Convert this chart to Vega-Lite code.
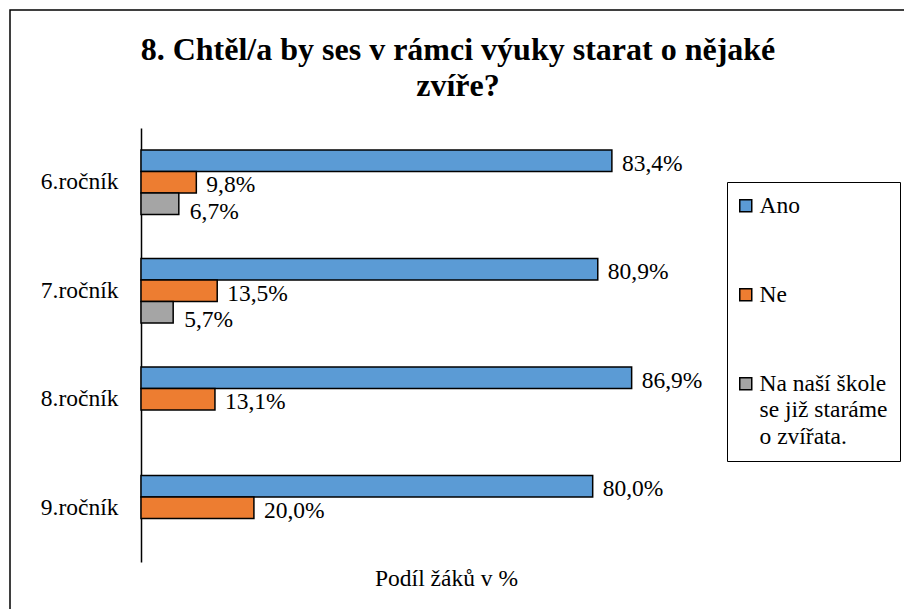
{
  "$schema": "https://vega.github.io/schema/vega-lite/v6.json",
  "width": 900,
  "height": 600,
  "autosize": {"type": "none"},
  "padding": {"left": 10, "top": 10, "right": 0, "bottom": 0},
  "background": "white",
  "title": {
    "text": ["8. Chtěl/a by ses v rámci výuky starat o nějaké", "zvíře?"],
    "font": "Liberation Serif",
    "fontSize": 32,
    "fontWeight": "bold",
    "color": "black",
    "anchor": "middle",
    "frame": "group",
    "lineHeight": 36,
    "baseline": "alphabetic",
    "offset": -118,
    "dx": -2
  },
  "config": {
    "view": {"stroke": "black", "strokeWidth": 1.5}
  },
  "data": {
    "values": [
      {"grade": "6.ročník", "series": "Ano", "value": 83.4, "label": "83,4%"},
      {"grade": "6.ročník", "series": "Ne", "value": 9.8, "label": "9,8%"},
      {"grade": "6.ročník", "series": "Na naší škole se již staráme o zvířata.", "value": 6.7, "label": "6,7%"},
      {"grade": "7.ročník", "series": "Ano", "value": 80.9, "label": "80,9%"},
      {"grade": "7.ročník", "series": "Ne", "value": 13.5, "label": "13,5%"},
      {"grade": "7.ročník", "series": "Na naší škole se již staráme o zvířata.", "value": 5.7, "label": "5,7%"},
      {"grade": "8.ročník", "series": "Ano", "value": 86.9, "label": "86,9%"},
      {"grade": "8.ročník", "series": "Ne", "value": 13.1, "label": "13,1%"},
      {"grade": "9.ročník", "series": "Ano", "value": 80.0, "label": "80,0%"},
      {"grade": "9.ročník", "series": "Ne", "value": 20.0, "label": "20,0%"}
    ]
  },
  "encoding": {
    "y": {
      "field": "grade",
      "type": "nominal",
      "sort": ["6.ročník", "7.ročník", "8.ročník", "9.ročník"],
      "scale": {"range": [118, 552], "paddingInner": 0.405, "paddingOuter": 0.2025},
      "axis": {
        "orient": "left",
        "offset": -131,
        "domainColor": "black",
        "domainWidth": 1.5,
        "ticks": false,
        "grid": false,
        "labelFont": "Liberation Serif",
        "labelFontSize": 23.5,
        "labelColor": "black",
        "labelPadding": 23
      },
      "title": null
    },
    "yOffset": {
      "field": "series",
      "type": "nominal",
      "sort": ["Ano", "Ne", "Na naší škole se již staráme o zvířata."],
      "scale": {"domain": ["Ano", "Ne", "Na naší škole se již staráme o zvířata."], "paddingInner": 0, "paddingOuter": 0}
    },
    "x": {
      "field": "value",
      "type": "quantitative",
      "stack": null,
      "scale": {"domain": [-23.2, 136.2], "nice": false, "zero": false},
      "axis": {
        "orient": "bottom",
        "offset": -48,
        "domain": false,
        "ticks": false,
        "labels": false,
        "grid": false,
        "titleFont": "Liberation Serif",
        "titleFontSize": 23.5,
        "titleFontWeight": "normal",
        "titleColor": "black",
        "titleX": 436,
        "titleY": 16,
        "titleBaseline": "middle",
        "titleAlign": "center"
      },
      "title": "Podíl žáků v %"
    }
  },
  "layer": [
    {
      "mark": {"type": "bar", "stroke": "black", "strokeWidth": 1.5},
      "encoding": {
        "color": {
          "field": "series",
          "type": "nominal",
          "scale": {
            "domain": ["Ano", "Ne", "Na naší škole se již staráme o zvířata."],
            "range": ["#5B9BD5", "#ED7D31", "#A5A5A5"]
          },
          "legend": {
            "orient": "none",
            "legendX": 717,
            "legendY": 172,
            "title": null,
            "strokeColor": "black",
            "fillColor": "white",
            "padding": 12,
            "symbolType": "square",
            "symbolSize": 144,
            "symbolStrokeColor": "black",
            "symbolStrokeWidth": 1.5,
            "symbolOpacity": 1,
            "symbolOffset": -5,
            "labelOffset": 2,
            "labelFont": "Liberation Serif",
            "labelFontSize": 23.5,
            "labelColor": "black",
            "labelLimit": 300,
            "rowPadding": 64,
            "labelExpr": "datum.label == 'Na naší škole se již staráme o zvířata.' ? ['Na naší škole', 'se již staráme', 'o zvířata.'] : datum.label",
            "encode": {"labels": {"update": {"lineHeight": {"value": 26.5}}}}
          }
        }
      }
    },
    {
      "transform": [{"filter": "datum.series != 'Na naší škole se již staráme o zvířata.'"}],
      "mark": {"type": "text", "align": "left", "baseline": "alphabetic", "dx": 10, "dy": 10, "font": "Liberation Serif", "fontSize": 23.5, "color": "black"},
      "encoding": {
        "text": {"field": "label", "type": "nominal"}
      }
    },
    {
      "transform": [{"filter": "datum.series == 'Na naší škole se již staráme o zvířata.'"}],
      "mark": {"type": "text", "align": "left", "baseline": "alphabetic", "dx": 11, "dy": 15, "font": "Liberation Serif", "fontSize": 23.5, "color": "black"},
      "encoding": {
        "text": {"field": "label", "type": "nominal"}
      }
    }
  ]
}
